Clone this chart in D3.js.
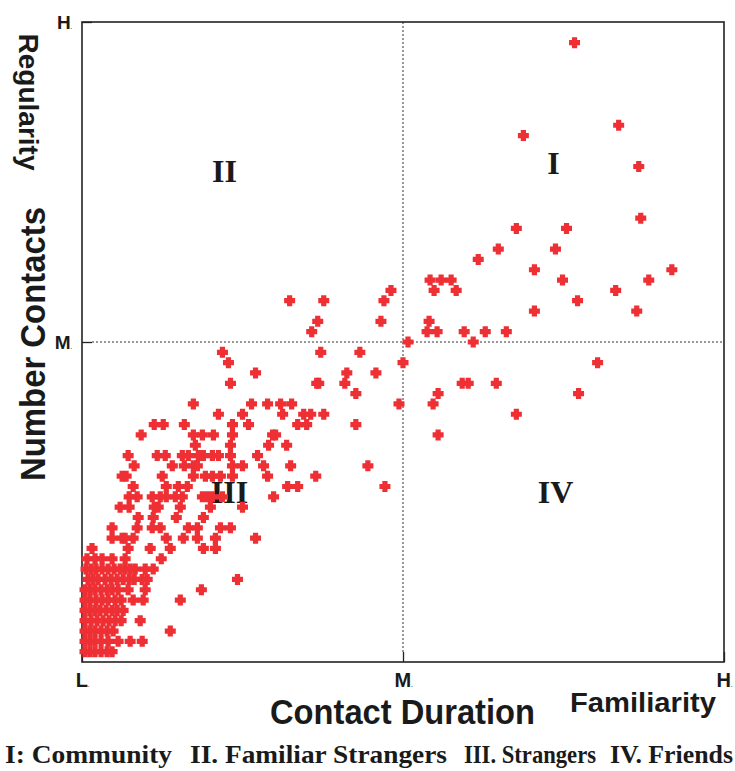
<!DOCTYPE html>
<html>
<head>
<meta charset="utf-8">
<script src="https://cdn.jsdelivr.net/npm/d3@7"></script>
<style>
  body { margin: 0; background: #fff; }
  svg { display: block; }
  .tick text { font-family: "Liberation Sans", Arial, sans-serif; font-weight: bold; fill: #1a1a1a; }
  .axis-title { font-family: "Liberation Sans", Arial, sans-serif; fill: #1a1a1a; }
  .quad { font-family: "Liberation Serif", "Times New Roman", serif; font-weight: bold; fill: #1a1a1a; }
  .caption { font-family: "Liberation Serif", "Times New Roman", serif; font-weight: bold; fill: #1a1a1a; }
</style>
</head>
<body>
<svg id="chart" width="735" height="771"></svg>
<script>
// SETUP: dimensions (plot box)
const margin = { top: 22, right: 11, bottom: 109, left: 82 },
      width = 735 - margin.left - margin.right,
      height = 771 - margin.top - margin.bottom;

// DATA: [contact duration, number of contacts]
// duration in arbitrary units (M = 32), contacts are counts (M = 31)
const quadrantI = [
  [49.1,60],[53.5,52],[44.0,51],[55.5,48],[55.7,43],[48.3,42],[43.3,42],[41.5,40],
  [47.2,40],[39.5,39],[58.8,38],[45.1,38],[47.9,37],[56.5,37],[53.2,36],[49.4,35],
  [45.1,34],[55.3,34],[34.7,37],[35.8,37],[36.8,37],[35.1,36],[37.3,36],[34.6,33],
  [34.4,32],[35.4,32],[38.1,32],[40.2,32],[42.3,32],[32.5,31],[39.0,31]
];
const quadrantII = [
  [20.7,35],[24.1,35],[23.5,33],[22.9,32],[30.8,36],[30.1,35],[29.8,33]
];
const quadrantIV = [
  [32.0,29],[51.4,29],[37.9,27],[38.5,27],[41.3,27],[35.5,26],[49.5,26],[35.0,25],
  [43.3,24],[35.5,22]
];
const quadrantIII = [
  [23.8,30],[27.7,30],[26.4,28],[29.3,28],[26.2,27],[23.4,27],[23.6,27],[27.3,26],
  [31.6,25],[27.3,23],[28.5,19],[30.2,17],[14.0,30],[14.6,29],[17.3,28],[14.8,27],
  [16.9,25],[18.5,25],[19.8,25],[20.9,25],[11.1,25],
  [13.6,24],[16.0,24],[20.0,24],[22.1,24],[22.8,24],[24.1,24],
  [15.0,23],[16.6,23],[21.5,23],[22.4,23],
  [12.0,22],[13.1,22],[15.0,22],[19.0,22],[19.3,22],
  [14.8,21],[18.6,21],[20.4,21],
  [12.1,20],[13.0,20],[13.6,20],[14.8,20],[17.5,20],
  [15.0,19],[16.0,19],[18.1,19],[20.8,19],
  [12.3,18],[13.0,18],[13.8,18],[15.0,18],[18.5,18],[23.3,18],
  [20.5,17],[21.5,17],
  [12.0,16],[12.5,16],[13.0,16],[14.0,16],[19.1,16],
  [12.8,15],[16.0,15],[12.1,14],[13.8,13],[14.8,13],[13.3,12],[17.3,12],[12.1,11],[13.3,11],
  [7.2,23],[8.1,23],[10.2,23],[5.9,22],[11.1,22],[11.3,21],
  [4.6,20],[7.5,20],[8.3,20],[10.0,20],[10.6,20],[11.6,20],
  [5.2,19],[9.0,19],[10.2,19],[11.1,19],[11.5,19],
  [4.0,18],[4.4,18],[8.0,18],[11.1,18],
  [5.1,17],[8.4,17],[9.6,17],[10.5,17],
  [4.7,16],[5.5,16],[7.0,16],[7.8,16],[8.4,16],[9.3,16],[10.0,16],
  [3.8,15],[4.7,15],[7.2,15],[7.6,15],[9.8,15],
  [5.6,14],[7.1,14],[9.4,14],
  [3.0,13],[5.5,13],[7.0,13],[7.8,13],[10.6,13],[11.5,13],
  [3.0,12],[4.0,12],[4.3,12],[5.1,12],[8.4,12],[10.1,12],[11.5,12],
  [1.0,11],[4.6,11],[6.8,11],[8.8,11],
  [3.0,10],[4.3,10],[7.9,10],
  [2.6,9],[4.3,9],[5.3,9],[6.3,9],[7.1,9],
  [0.6,8],[2.3,8],[4.1,8],[6.0,8],[6.5,8],[15.5,8],
  [4.6,7],[6.3,7],[11.9,7],
  [5.1,6],[6.1,6],[9.8,6],
  [5.8,4],[8.8,3],[6.0,2],[4.8,2],[3.6,2],[3.0,1],
  // dense block near the origin
  [0.5,10],[1.3,10],[2.0,10],
  [0.4,9],[0.9,9],[1.4,9],[2.0,9],[3.2,9],[3.8,9],[4.8,9],
  [1.1,8],[1.6,8],[2.9,8],[3.5,8],[4.7,8],[5.2,8],
  [0.3,7],[0.8,7],[1.3,7],[1.9,7],[2.5,7],[3.0,7],[3.6,7],
  [0.3,6],[0.8,6],[1.4,6],[2.0,6],[2.6,6],[3.3,6],[3.9,6],
  [0.3,5],[0.8,5],[1.3,5],[1.8,5],[2.4,5],[3.0,5],[3.5,5],[4.1,5],
  [0.3,4],[0.9,4],[1.5,4],[2.1,4],[2.7,4],[3.3,4],[3.9,4],
  [0.3,3],[0.8,3],[1.3,3],[1.9,3],[2.5,3],[3.1,3],
  [0.3,2],[0.8,2],[1.3,2],[1.9,2],[2.6,2],
  [0.3,1],[0.8,1],[1.3,1],[1.9,1],[2.5,1]
];

const xTickValues = [0, 32, 64];
const xTickLabels = ["L", "M", "H"];
const yTickValues = [31, 62];
const yTickLabels = ["M", "H"];
const quadrantNames = [
  { label: "I",   x: 47.0, y: 47.3 },
  { label: "II",  x: 14.2, y: 46.5 },
  { label: "III", x: 14.7, y: 15.4 },
  { label: "IV",  x: 47.2, y: 15.4 }
];
const captionParts = ["I: Community", "II. Familiar Strangers", "III. Strangers", "IV. Friends"];

const allPoints = [].concat(quadrantI, quadrantII, quadrantIII, quadrantIV);

// 1: SVG
const svg = d3.select("#chart");
const g = svg.append("g")
    .attr("transform", `translate(${margin.left},${margin.top})`);

// 2: SCALES
const x = d3.scaleLinear().domain([0, 64]).range([0, width]);
const y = d3.scaleLinear().domain([0, 62]).range([height, 0]);

// 3: DOTTED MEDIAN LINES
g.append("line")
    .attr("x1", x(32)).attr("x2", x(32))
    .attr("y1", 0).attr("y2", height - 10)
    .attr("stroke", "#333").attr("stroke-width", 1)
    .attr("stroke-dasharray", "2,2");
g.append("line")
    .attr("x1", 10).attr("x2", width)
    .attr("y1", y(31)).attr("y2", y(31))
    .attr("stroke", "#333").attr("stroke-width", 1)
    .attr("stroke-dasharray", "2,2");

// 4: AXES (ticks point inward)
const xAxis = g.append("g")
    .attr("transform", `translate(0,${height})`)
    .call(d3.axisBottom(x)
        .tickValues(xTickValues)
        .tickFormat((d, i) => xTickLabels[i])
        .tickSize(-10)
        .tickPadding(11));
xAxis.select(".domain").remove();
xAxis.selectAll(".tick line").attr("stroke", "#222").attr("stroke-width", 1.3);
xAxis.selectAll(".tick text").attr("font-size", 20).append("tspan").attr("font-size", 5).text(".");

const yAxis = g.append("g")
    .call(d3.axisLeft(y)
        .tickValues(yTickValues)
        .tickFormat((d, i) => yTickLabels[i])
        .tickSize(-10)
        .tickPadding(10));
yAxis.select(".domain").remove();
yAxis.selectAll(".tick line").attr("stroke", "#222").attr("stroke-width", 1.3);
yAxis.selectAll(".tick text").attr("font-size", 19).append("tspan").attr("font-size", 5).text(".");

// frame
g.append("rect")
    .attr("width", width).attr("height", height)
    .attr("fill", "none")
    .attr("stroke", "#222").attr("stroke-width", 1.6);

// 5: QUADRANT LABELS
g.selectAll(".quad")
    .data(quadrantNames)
    .enter().append("text")
    .attr("class", "quad")
    .attr("x", d => x(d.x))
    .attr("y", d => y(d.y))
    .attr("text-anchor", "middle")
    .attr("font-size", 32)
    .text(d => d.label);

// 6: POINTS (thick plus markers)
const plus = (() => {
  const a = 5.5, b = 2.6;
  return `M${-b},${-a}H${b}V${-b}H${a}V${b}H${b}V${a}H${-b}V${b}H${-a}V${-b}H${-b}Z`;
})();
g.selectAll(".pt")
    .data(allPoints)
    .enter().append("path")
    .attr("class", "pt")
    .attr("d", plus)
    .attr("transform", d => `translate(${x(d[0])},${y(d[1])})`)
    .attr("fill", "#ee2f34");

// 7: AXIS TITLES
svg.append("text")
    .attr("class", "axis-title")
    .attr("x", 270).attr("y", 724)
    .attr("font-size", 35)
    .attr("font-weight", "bold")
    .attr("textLength", 265)
    .attr("lengthAdjust", "spacingAndGlyphs")
    .text("Contact Duration");

svg.append("text")
    .attr("class", "axis-title")
    .attr("x", 570).attr("y", 712)
    .attr("font-size", 28)
    .attr("font-weight", "bold")
    .attr("textLength", 146)
    .attr("lengthAdjust", "spacingAndGlyphs")
    .text("Familiarity");

svg.append("text")
    .attr("class", "axis-title")
    .attr("transform", "translate(45,481) rotate(-90)")
    .attr("font-size", 35)
    .attr("font-weight", "bold")
    .attr("textLength", 274)
    .attr("lengthAdjust", "spacingAndGlyphs")
    .text("Number Contacts");

svg.append("text")
    .attr("class", "axis-title")
    .attr("transform", "translate(19,102) rotate(90)")
    .attr("text-anchor", "middle")
    .attr("font-size", 28)
    .attr("font-weight", "bold")
    .text("Regularity");

// 8: CAPTION
const captionX = [5, 190, 464, 610];
const captionW = [167, 257, 132, 123];
svg.selectAll(".caption")
    .data(captionParts)
    .enter().append("text")
    .attr("class", "caption")
    .attr("x", (d, i) => captionX[i])
    .attr("y", 763)
    .attr("font-size", 26)
    .attr("textLength", (d, i) => captionW[i])
    .attr("lengthAdjust", "spacingAndGlyphs")
    .text(d => d);
</script>
</body>
</html>
